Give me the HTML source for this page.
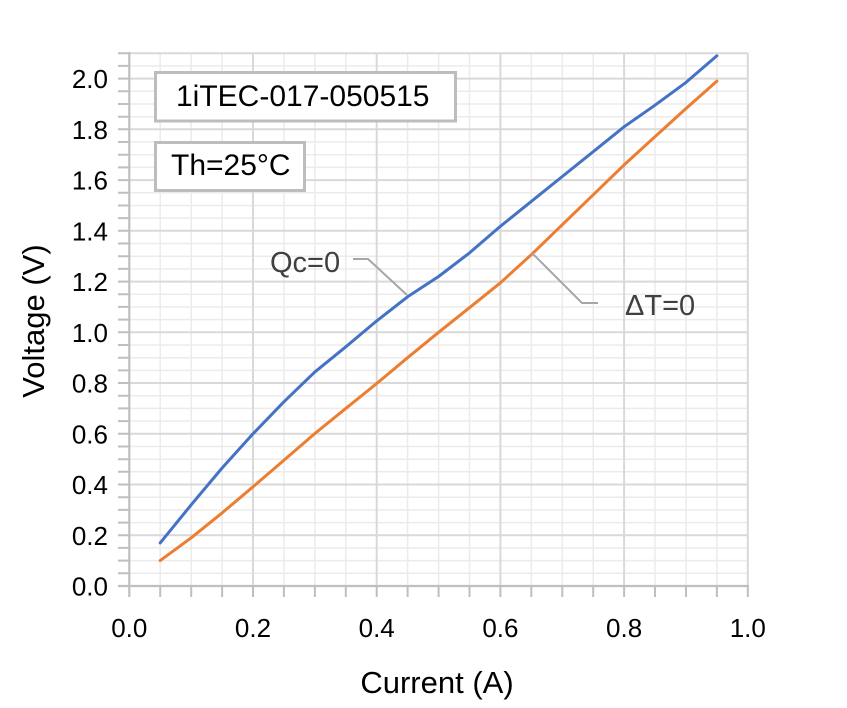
<!DOCTYPE html>
<html>
<head>
<meta charset="utf-8">
<style>
html,body{margin:0;padding:0;background:#fff;}
svg{display:block;}
text{font-family:"Liberation Sans",sans-serif;fill:#000;}
</style>
</head>
<body>
<svg width="847" height="708" viewBox="0 0 847 708" xmlns="http://www.w3.org/2000/svg">
<rect width="847" height="708" fill="#fff"/>
<path fill="none" stroke="#ebebeb" stroke-width="1.5" d="M160.2 53V586M191.2 53V586M222.1 53V586M283.9 53V586M314.9 53V586M345.8 53V586M407.6 53V586M438.6 53V586M469.5 53V586M531.3 53V586M562.3 53V586M593.2 53V586M655 53V586M686 53V586M716.9 53V586M129 573.3H748M129 560.6H748M129 547.9H748M129 522.6H748M129 509.9H748M129 497.2H748M129 471.8H748M129 459.2H748M129 446.5H748M129 421.1H748M129 408.4H748M129 395.7H748M129 370.4H748M129 357.7H748M129 345H748M129 319.6H748M129 306.9H748M129 294.3H748M129 268.9H748M129 256.2H748M129 243.5H748M129 218.1H748M129 205.5H748M129 192.8H748M129 167.4H748M129 154.7H748M129 142H748M129 116.7H748M129 104H748M129 91.3H748M129 65.9H748"/>
<path fill="none" stroke="#d9d9d9" stroke-width="2" d="M253 53V586M376.7 53V586M500.4 53V586M624.1 53V586M747.8 53V586M129 535.3H748M129 484.5H748M129 433.8H748M129 383H748M129 332.3H748M129 281.6H748M129 230.8H748M129 180.1H748M129 129.3H748M129 78.6H748M129 53.2H748"/>
<path fill="none" stroke="#bfbfbf" stroke-width="2.2" d="M129.3 52V597M118 586H749"/>
<path fill="none" stroke="#bfbfbf" stroke-width="2" d="M118 573.3H129M118 560.6H129M118 547.9H129M118 535.3H129M118 522.6H129M118 509.9H129M118 497.2H129M118 484.5H129M118 471.8H129M118 459.2H129M118 446.5H129M118 433.8H129M118 421.1H129M118 408.4H129M118 395.7H129M118 383H129M118 370.4H129M118 357.7H129M118 345H129M118 332.3H129M118 319.6H129M118 306.9H129M118 294.3H129M118 281.6H129M118 268.9H129M118 256.2H129M118 243.5H129M118 230.8H129M118 218.1H129M118 205.5H129M118 192.8H129M118 180.1H129M118 167.4H129M118 154.7H129M118 142H129M118 129.3H129M118 116.7H129M118 104H129M118 91.3H129M118 78.6H129M118 65.9H129M118 53.2H129M160.2 586V597M191.2 586V597M222.1 586V597M253 586V597M283.9 586V597M314.9 586V597M345.8 586V597M376.7 586V597M407.6 586V597M438.6 586V597M469.5 586V597M500.4 586V597M531.3 586V597M562.3 586V597M593.2 586V597M624.1 586V597M655 586V597M686 586V597M716.9 586V597M747.8 586V597"/>
<polyline fill="none" stroke="#ED7D31" stroke-width="3" stroke-linejoin="round" stroke-linecap="round" points="160.2,560.6 191.2,537.8 222.1,512.9 253,486.8 283.9,460.2 314.9,433.5 345.8,408.4 376.7,383.5 407.6,357.7 438.6,332.3 469.5,307.7 500.4,282.8 531.3,254.7 562.3,224.7 593.2,194.8 624.1,164.9 655,136.7 686,108.5 716.9,81.1"/>
<polyline fill="none" stroke="#4472C4" stroke-width="3" stroke-linejoin="round" stroke-linecap="round" points="160.2,542.9 191.2,504.8 222.1,468 253,433.8 283.9,401.8 314.9,371.9 345.8,346.8 376.7,320.9 407.6,296.8 438.6,276.5 469.5,252.9 500.4,226.3 531.3,201.4 562.3,176.5 593.2,151.7 624.1,126.8 655,105.2 686,82.4 716.9,55.8"/>
<path fill="none" stroke="#a6a6a6" stroke-width="2" d="M353 259H368L407 295M532 253L582 303H598"/>
<text x="270" y="272" font-size="29" style="fill:#404040">Qc=0</text>
<text x="625" y="315" font-size="29" style="fill:#404040">ΔT=0</text>
<rect x="155.5" y="72.5" width="300" height="48.5" fill="#fff" stroke="#bdbdbd" stroke-width="3"/>
<text x="176" y="106" font-size="30">1iTEC-017-050515</text>
<rect x="155.5" y="142.5" width="149" height="48" fill="#fff" stroke="#bdbdbd" stroke-width="3"/>
<text x="171" y="175" font-size="30">Th=25°C</text>
<g font-size="26" text-anchor="end">
<text x="108" y="595.5">0.0</text>
<text x="108" y="544.8">0.2</text>
<text x="108" y="494">0.4</text>
<text x="108" y="443.3">0.6</text>
<text x="108" y="392.5">0.8</text>
<text x="108" y="341.8">1.0</text>
<text x="108" y="291.1">1.2</text>
<text x="108" y="240.3">1.4</text>
<text x="108" y="189.6">1.6</text>
<text x="108" y="138.8">1.8</text>
<text x="108" y="88.1">2.0</text>
</g>
<g font-size="26" text-anchor="middle">
<text x="129.3" y="637">0.0</text>
<text x="253" y="637">0.2</text>
<text x="376.7" y="637">0.4</text>
<text x="500.4" y="637">0.6</text>
<text x="624.1" y="637">0.8</text>
<text x="747.8" y="637">1.0</text>
</g>
<text x="437" y="693" font-size="31" text-anchor="middle">Current (A)</text>
<text transform="translate(44,321) rotate(-90)" font-size="31" text-anchor="middle">Voltage (V)</text>
</svg>
</body>
</html>
